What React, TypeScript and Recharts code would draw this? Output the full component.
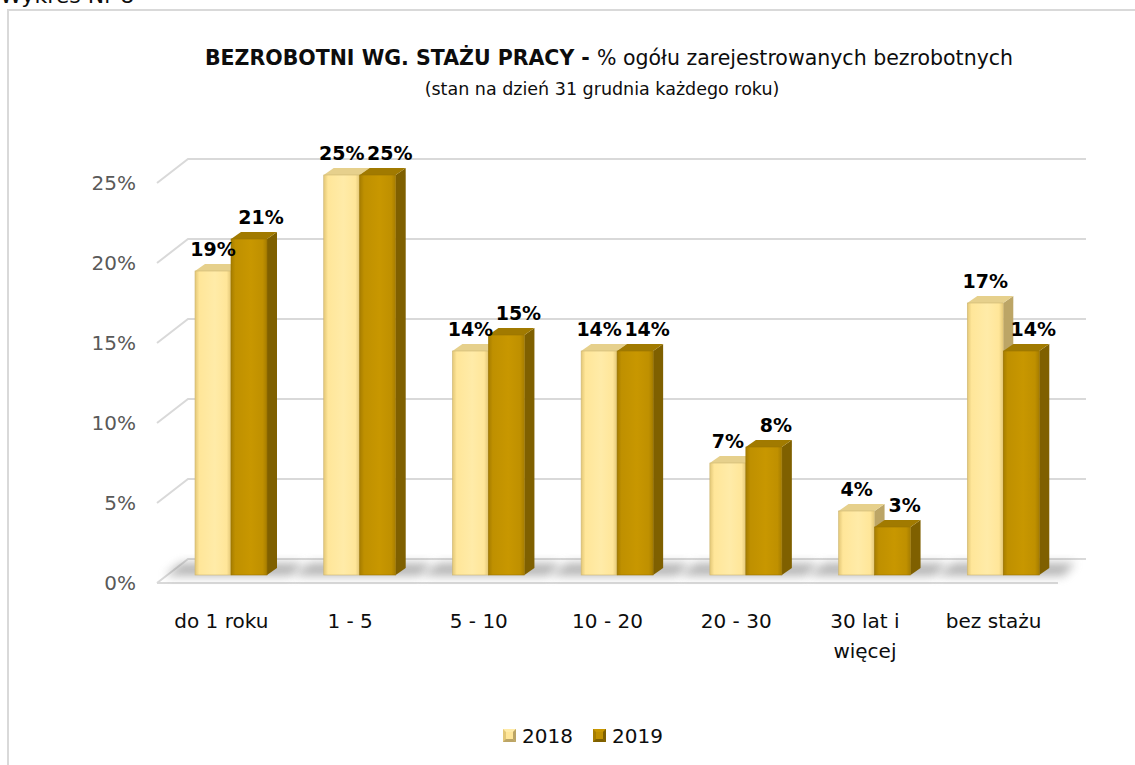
import React from 'react';
import { BarChart, Bar, XAxis, YAxis, CartesianGrid, LabelList } from 'recharts';

const categories = ['do 1 roku', '1 - 5', '5 - 10', '10 - 20', '20 - 30', '30 lat i więcej', 'bez stażu'];
const values2018 = [19, 25, 14, 14, 7, 4, 17];
const values2019 = [21, 25, 15, 14, 8, 3, 14];
const seriesNames = ['2018', '2019'];
const yTicks = [0, 5, 10, 15, 20, 25];

const data = categories.map((c, i) => ({ name: c, s2018: values2018[i], s2019: values2019[i] }));

const FONT = '"DejaVu Sans", sans-serif';
const SHIFT_X = 10;
const SHIFT_Y = 8;
const DX = 10;
const DY = 7;
const MAX_CHARS = 10;

const palettes = {
  s2018: { edge: '#E3C777', front: '#FFE699', light: '#FFEBA8', top: '#E6D08C', side: '#BCA566', stroke: '#CDB672' },
  s2019: { edge: '#A67D00', front: '#BF9000', light: '#C89700', top: '#A17A00', side: '#7F6000', stroke: '#9A7400' },
};

const wrapWords = (s: string) => {
  const words = s.split(' ');
  const lines: string[] = [];
  let cur = '';
  words.forEach((w) => {
    const next = cur ? `${cur} ${w}` : w;
    if (next.length > MAX_CHARS && cur) {
      lines.push(cur);
      cur = w;
    } else {
      cur = next;
    }
  });
  if (cur) lines.push(cur);
  return lines;
};

const makeShape = (key: 's2018' | 's2019', withShadow: boolean) => (props: any) => {
  const { x, y, width, height } = props;
  if (height == null || width == null) return null;
  const p = palettes[key];
  const X = x + SHIFT_X;
  const Y = y - SHIFT_Y;
  const w = width;
  const h = height;
  const gid = `grad-${key}`;
  return (
    <g>
      <defs>
        <linearGradient id={gid} x1="0" y1="0" x2="1" y2="0">
          <stop offset="0%" stopColor={p.edge} />
          <stop offset="12%" stopColor={p.front} />
          <stop offset="55%" stopColor={p.light} />
          <stop offset="88%" stopColor={p.front} />
          <stop offset="100%" stopColor={p.edge} />
        </linearGradient>
        <filter id="floorBlur" x="-50%" y="-100%" width="200%" height="300%">
          <feGaussianBlur stdDeviation="5" />
        </filter>
      </defs>
      {withShadow && (
        <polygon
          points={`${X - 30},${Y + h + 1} ${X - 14},${Y + h - 12} ${X + 2 * w + DX + 26},${Y + h - 12} ${X + 2 * w + DX + 14},${Y + h + 1}`}
          fill="#7a7a7a"
          opacity={0.55}
          filter="url(#floorBlur)"
        />
      )}
      <polygon
        points={`${X + w},${Y} ${X + w + DX},${Y - DY} ${X + w + DX},${Y + h - DY} ${X + w},${Y + h}`}
        fill={p.side}
      />
      <polygon
        points={`${X},${Y} ${X + DX},${Y - DY} ${X + w + DX},${Y - DY} ${X + w},${Y}`}
        fill={p.top}
      />
      <rect x={X} y={Y} width={w} height={h} fill={`url(#${gid})`} stroke={p.stroke} strokeWidth={0.6} />
    </g>
  );
};

const makeLabel = (extraDx: number) => (props: any) => {
  const { x, y, width, value } = props;
  return (
    <text
      x={x + width / 2 + SHIFT_X + extraDx}
      y={y - SHIFT_Y - 22}
      textAnchor="middle"
      dominantBaseline="central"
      fontFamily={FONT}
      fontWeight="bold"
      fontSize={19}
      fill="#000"
    >
      {`${value}%`}
    </text>
  );
};

const GridLine = (props: any) => {
  const { x1, x2, y1 } = props;
  const back = y1 - 24;
  const isFloor = Math.abs(y1 - 583) < 1;
  return (
    <g>
      <polyline
        points={`${x1},${y1} ${x1 + 31},${back} ${x2 + 28},${back}`}
        fill="none"
        stroke="#D9D9D9"
        strokeWidth={2}
      />
      {isFloor && <line x1={x1} y1={y1} x2={x2} y2={y1} stroke="#D9D9D9" strokeWidth={2} />}
    </g>
  );
};

const YTick = (props: any) => {
  const { y, payload } = props;
  return (
    <text x={136} y={y} textAnchor="end" dominantBaseline="central" fontFamily={FONT} fontSize={20} fill="#595959">
      {`${payload.value}%`}
    </text>
  );
};

const XTick = (props: any) => {
  const { x, y, payload } = props;
  const lines = wrapWords(String(payload.value));
  return (
    <text x={x} y={y + 39} textAnchor="middle" fontFamily={FONT} fontSize={20} fill="#0d0d0d">
      {lines.map((l, i) => (
        <tspan key={i} x={x} dy={i === 0 ? 0 : 30}>
          {l}
        </tspan>
      ))}
    </text>
  );
};

const LegendIcon = ({ k }: { k: 's2018' | 's2019' }) => {
  const p = palettes[k];
  return (
    <svg width={13} height={13} style={{ display: 'inline-block', verticalAlign: 'middle' }}>
      <rect x={0} y={0} width={13} height={13} fill={p.edge} />
      <polygon points="0,0 13,0 10,3 3,3" fill={p.light} />
      <polygon points="13,0 13,13 10,10 10,3" fill={p.side} />
      <polygon points="0,13 13,13 10,10 3,10" fill={p.side} />
      <rect x={3} y={3} width={7} height={7} fill={p.front} />
    </svg>
  );
};

export default function App() {
  return (
    <div style={{ position: 'absolute', left: 0, top: 0, width: 1135, height: 765, background: '#fff', overflow: 'hidden', fontFamily: FONT }}>
      <div style={{ position: 'absolute', left: 0, top: -17, fontSize: 22, color: '#0d0d0d', whiteSpace: 'nowrap' }}>Wykres Nr 8</div>
      <div style={{ position: 'absolute', left: 7, top: 9, width: 1128, height: 756, borderTop: '2px solid #D9D9D9', borderLeft: '2px solid #D9D9D9', boxSizing: 'border-box' }} />
      <div style={{ position: 'absolute', left: 0, width: 1218, top: 46, textAlign: 'center', fontSize: 20.5, color: '#0d0d0d', whiteSpace: 'nowrap' }}>
        <span style={{ fontWeight: 'bold' }}>BEZROBOTNI WG. STAŻU PRACY - </span>
        <span>% ogółu zarejestrowanych bezrobotnych</span>
      </div>
      <div style={{ position: 'absolute', left: 0, width: 1204, top: 79, textAlign: 'center', fontSize: 17.5, color: '#0d0d0d', whiteSpace: 'nowrap' }}>
        (stan na dzień 31 grudnia każdego roku)
      </div>
      <div style={{ position: 'absolute', left: 0, top: 0 }}>
        <BarChart
          width={1135}
          height={765}
          data={data}
          margin={{ top: 183, right: 77, bottom: 122, left: 97 }}
          barGap={0}
          barSize={36}
        >
          <CartesianGrid vertical={false} horizontal={(p: any) => <GridLine {...p} />} />
          <XAxis dataKey="name" height={60} axisLine={false} tickLine={false} tickMargin={0} interval={0} tick={<XTick />} />
          <YAxis
            width={60}
            domain={[0, 25]}
            ticks={yTicks}
            axisLine={false}
            tickLine={false}
            tick={<YTick />}
            interval={0}
          />
          <Bar dataKey="s2018" name={seriesNames[0]} isAnimationActive={false} shape={makeShape('s2018', true)}>
            <LabelList dataKey="s2018" content={makeLabel(0)} />
          </Bar>
          <Bar dataKey="s2019" name={seriesNames[1]} isAnimationActive={false} shape={makeShape('s2019', false)}>
            <LabelList dataKey="s2019" content={makeLabel(12)} />
          </Bar>
        </BarChart>
      </div>
      <div style={{ position: 'absolute', left: 0, width: 1166, top: 722, textAlign: 'center', fontSize: 20, color: '#0d0d0d', whiteSpace: 'nowrap' }}>
        <span style={{ marginRight: 20 }}>
          <LegendIcon k="s2018" />
          <span style={{ marginLeft: 6, verticalAlign: 'middle' }}>{seriesNames[0]}</span>
        </span>
        <span>
          <LegendIcon k="s2019" />
          <span style={{ marginLeft: 6, verticalAlign: 'middle' }}>{seriesNames[1]}</span>
        </span>
      </div>
    </div>
  );
}
